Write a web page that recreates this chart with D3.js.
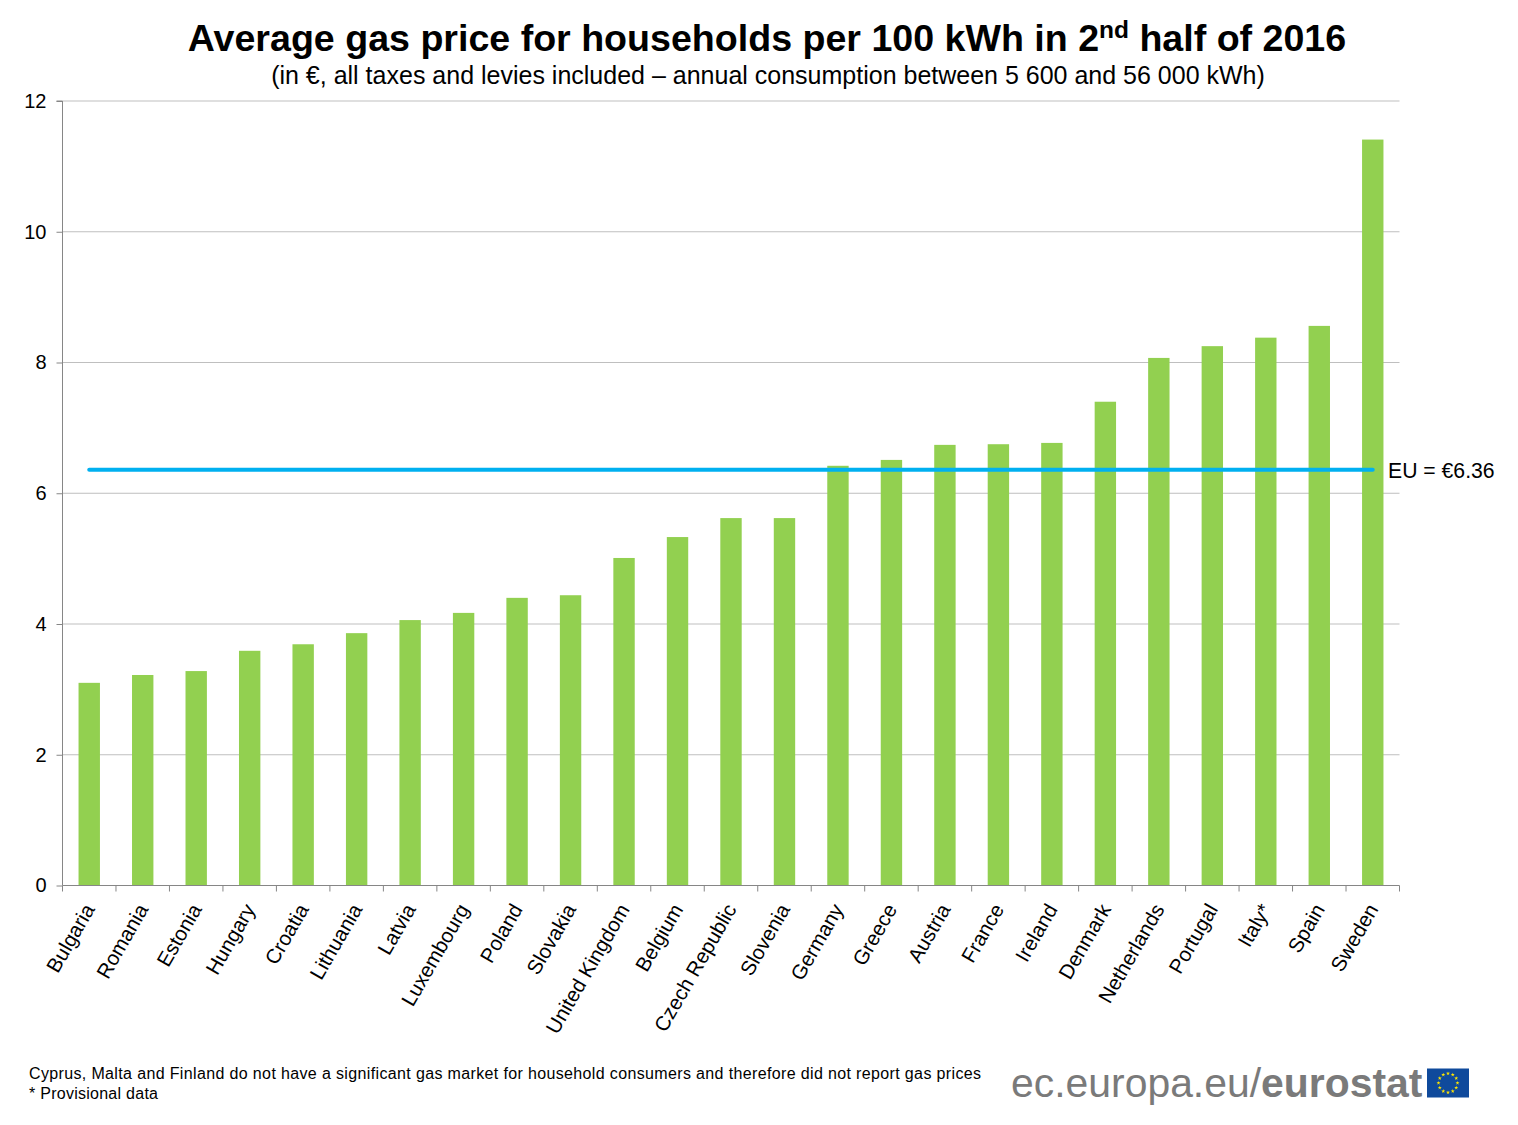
<!DOCTYPE html>
<html>
<head>
<meta charset="utf-8">
<script src="https://cdn.jsdelivr.net/npm/d3@7"></script>
<style>
html, body { margin: 0; padding: 0; background: #fff; }
text { font-family: "Liberation Sans", Arial, sans-serif; fill: #000; }
</style>
</head>
<body>
<div class="viz"></div>
<script>
var countries = ["Bulgaria", "Romania", "Estonia", "Hungary", "Croatia", "Lithuania", "Latvia", "Luxembourg", "Poland", "Slovakia", "United Kingdom", "Belgium", "Czech Republic", "Slovenia", "Germany", "Greece", "Austria", "France", "Ireland", "Denmark", "Netherlands", "Portugal", "Italy*", "Spain", "Sweden"];
var prices = [3.10, 3.22, 3.28, 3.59, 3.69, 3.86, 4.06, 4.17, 4.40, 4.44, 5.01, 5.33, 5.62, 5.62, 6.42, 6.51, 6.74, 6.75, 6.77, 7.40, 8.07, 8.25, 8.38, 8.56, 11.41];
var yTicks = [0, 2, 4, 6, 8, 10, 12];
var euAverage = 6.36;

var width = 1518,
  height = 1125,
  margin = { top: 101, bottom: 239.5, left: 62.5, right: 118.5 };

var svg = d3
  .select(".viz")
  .append("svg")
  .attr("width", width)
  .attr("height", height)
  .style("display", "block");

var x = d3
  .scaleBand()
  .domain(countries)
  .range([margin.left, width - margin.right])
  .paddingInner(0.6)
  .paddingOuter(0.3);

var y = d3
  .scaleLinear()
  .domain([0, 12])
  .range([height - margin.bottom, margin.top]);

// gridlines
svg
  .append("g")
  .selectAll("line")
  .data(yTicks.slice(1))
  .enter()
  .append("line")
  .attr("x1", margin.left)
  .attr("x2", width - margin.right)
  .attr("y1", function (d) { return y(d); })
  .attr("y2", function (d) { return y(d); })
  .attr("stroke", "#bfbfbf")
  .attr("stroke-width", 1);

// bars
svg
  .append("g")
  .selectAll("rect")
  .data(prices)
  .enter()
  .append("rect")
  .attr("x", function (d, i) { return x(countries[i]); })
  .attr("y", function (d) { return y(d); })
  .attr("width", x.bandwidth())
  .attr("height", function (d) { return y(0) - y(d); })
  .attr("fill", "#92d050");

// y axis
var yAxis = svg
  .append("g")
  .attr("transform", "translate(" + margin.left + ",0)")
  .call(d3.axisLeft(y).tickValues(yTicks).tickSize(6).tickPadding(10).tickFormat(d3.format("d")));
yAxis.selectAll("path, line").attr("stroke", "#868686").attr("stroke-width", 1);
yAxis.selectAll("text").style("font-size", "20px").attr("fill", "#000");
yAxis.select(".domain").attr("d", "M0," + y(12) + "H-6M0," + y(12) + "V" + y(0));

// x axis, ticks sit between the categories
var step = x.step();
var xAxis = svg.append("g");
xAxis
  .append("line")
  .attr("x1", margin.left)
  .attr("x2", width - margin.right)
  .attr("y1", y(0))
  .attr("y2", y(0))
  .attr("stroke", "#868686");
xAxis
  .selectAll(".tick")
  .data(d3.range(countries.length + 1))
  .enter()
  .append("line")
  .attr("class", "tick")
  .attr("x1", function (d) { return margin.left + d * step; })
  .attr("x2", function (d) { return margin.left + d * step; })
  .attr("y1", y(0))
  .attr("y2", y(0) + 6)
  .attr("stroke", "#868686");
xAxis
  .selectAll("text")
  .data(countries)
  .enter()
  .append("text")
  .attr("transform", function (d) {
    return "translate(" + (x(d) + x.bandwidth() / 2) + "," + (y(0) + 20) + ") rotate(-60)";
  })
  .attr("text-anchor", "end")
  .attr("dy", "0.35em")
  .style("font-size", "20.5px")
  .text(function (d) { return d; });

// EU average line
svg
  .append("line")
  .attr("x1", x(countries[0]) + x.bandwidth() / 2)
  .attr("x2", x(countries[countries.length - 1]) + x.bandwidth() / 2)
  .attr("y1", y(euAverage))
  .attr("y2", y(euAverage))
  .attr("stroke", "#00b0f0")
  .attr("stroke-width", 4)
  .attr("stroke-linecap", "round");

svg
  .append("text")
  .attr("x", 1388)
  .attr("y", 478)
  .style("font-size", "21.2px")
  .text("EU = €6.36");

// titles
var title = svg
  .append("text")
  .attr("x", 767)
  .attr("y", 51)
  .attr("text-anchor", "middle")
  .style("font-size", "37.6px")
  .style("font-weight", "bold");
title.append("tspan").text("Average gas price for households per 100 kWh in 2");
title.append("tspan").attr("dy", -13).style("font-size", "24.5px").text("nd");
title.append("tspan").attr("dy", 13).text(" half of 2016");

svg
  .append("text")
  .attr("x", 768)
  .attr("y", 84)
  .attr("text-anchor", "middle")
  .style("font-size", "25px")
  .text("(in €, all taxes and levies included – annual consumption between 5 600 and 56 000 kWh)");

// footnotes
svg
  .append("text")
  .attr("x", 29)
  .attr("y", 1079)
  .style("font-size", "16px")
  .attr("textLength", 952)
  .text("Cyprus, Malta and Finland do not have a significant gas market for household consumers and therefore did not report gas prices");
svg
  .append("text")
  .attr("x", 29)
  .attr("y", 1099)
  .style("font-size", "16px")
  .attr("textLength", 129)
  .text("* Provisional data");

// logo
var logo = svg.append("text").attr("x", 1011).attr("y", 1097).style("font-size", "40.9px");
logo.append("tspan").style("fill", "#7a7a7a").text("ec.europa.eu/");
logo.append("tspan").style("fill", "#7a7a7a").style("font-weight", "bold").text("eurostat");

svg
  .append("rect")
  .attr("x", 1427)
  .attr("y", 1068.5)
  .attr("width", 42)
  .attr("height", 29)
  .attr("fill", "#0f4a9c");

var star = d3.symbol().type(d3.symbolStar).size(5);
svg
  .append("g")
  .selectAll("path")
  .data(d3.range(12))
  .enter()
  .append("path")
  .attr("d", star)
  .attr("fill", "#ffe600")
  .attr("transform", function (d) {
    var a = (d * Math.PI) / 6;
    return "translate(" + (1448 + 9.5 * Math.cos(a)) + "," + (1083 + 9.5 * Math.sin(a)) + ")";
  });
</script>
</body>
</html>
